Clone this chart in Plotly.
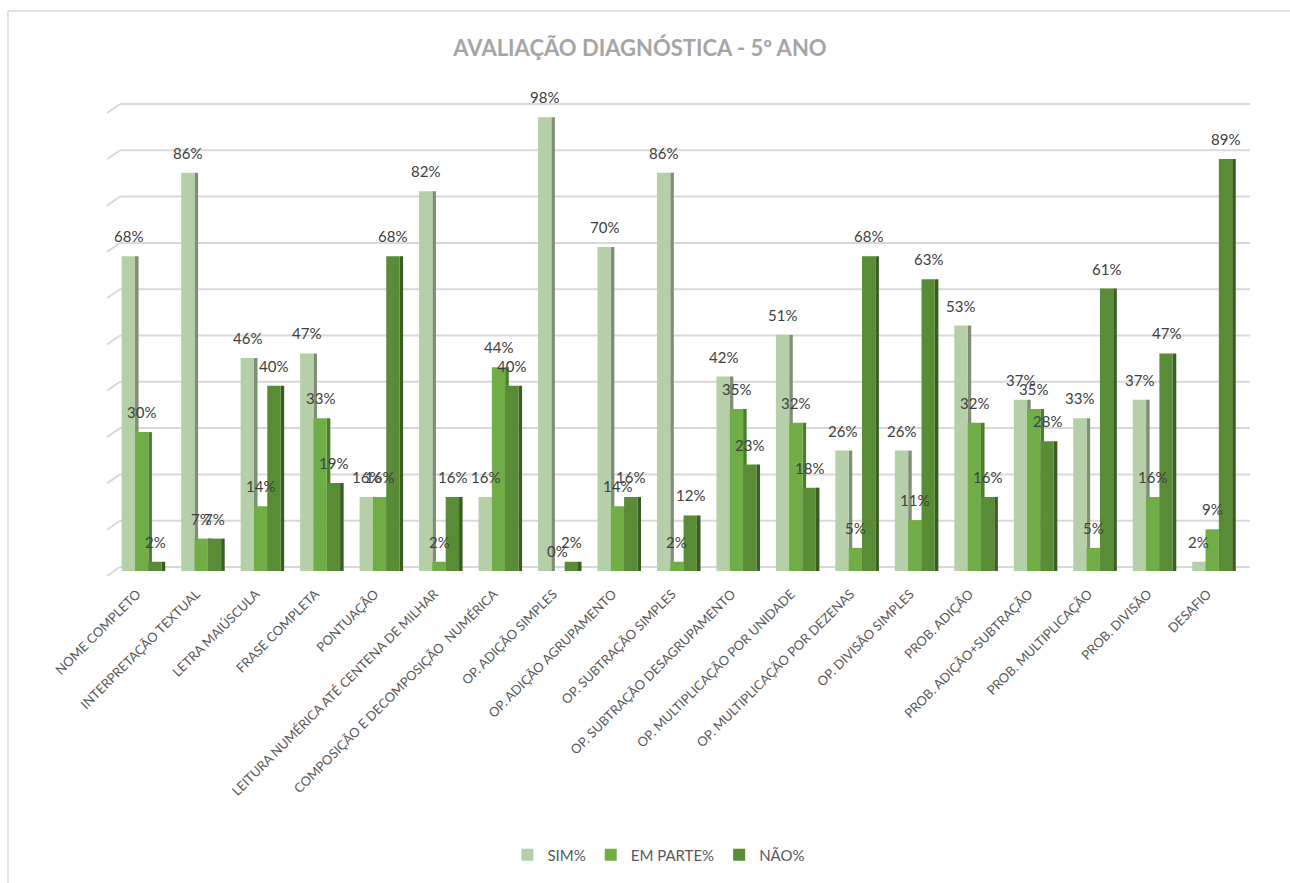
import plotly.graph_objects as go

# Avaliação diagnóstica - 5º ano: percentual por item e por resposta
categorias = [
    "NOME COMPLETO",
    "INTERPRETAÇÃO TEXTUAL",
    "LETRA MAIÚSCULA",
    "FRASE COMPLETA",
    "PONTUAÇÃO",
    "LEITURA NUMÉRICA ATÉ CENTENA DE MILHAR",
    "COMPOSIÇÃO E DECOMPOSIÇÃO  NUMÉRICA",
    "OP. ADIÇÃO SIMPLES",
    "OP. ADIÇÃO AGRUPAMENTO",
    "OP. SUBTRAÇÃO SIMPLES",
    "OP. SUBTRAÇÃO DESAGRUPAMENTO",
    "OP. MULTIPLICAÇÃO POR UNIDADE",
    "OP. MULTIPLICAÇÃO POR DEZENAS",
    "OP. DIVISÃO SIMPLES",
    "PROB. ADIÇÃO",
    "PROB. ADIÇÃO+SUBTRAÇÃO",
    "PROB. MULTIPLICAÇÃO",
    "PROB. DIVISÃO",
    "DESAFIO",
]

sim = [0.68, 0.86, 0.46, 0.47, 0.16, 0.82, 0.16, 0.98, 0.70, 0.86,
       0.42, 0.51, 0.26, 0.26, 0.53, 0.37, 0.33, 0.37, 0.02]
em_parte = [0.30, 0.07, 0.14, 0.33, 0.16, 0.02, 0.44, 0.00, 0.14, 0.02,
            0.35, 0.32, 0.05, 0.11, 0.32, 0.35, 0.05, 0.16, 0.09]
nao = [0.02, 0.07, 0.40, 0.19, 0.68, 0.16, 0.40, 0.02, 0.16, 0.12,
       0.23, 0.18, 0.68, 0.63, 0.16, 0.28, 0.61, 0.47, 0.89]

series = [
    # name, values, face colour, side colour, offset of the face
    ("SIM%", sim, "#b5cfa8", "#7e8f74", -0.337),
    ("EM PARTE%", em_parte, "#70ad47", "#4b7d2c", -0.113),
    ("NÃO%", nao, "#5a8c37", "#3a5e22", 0.111),
]
FACE_W = 0.224
SIDE_W = 0.06

x = list(range(len(categorias)))
FONT = "Lato, 'Open Sans', sans-serif"

# plot area geometry (pixels)
W, H = 1290, 883
L, R, T, B = 112, 48, 108, 312
PW, PH = W - L - R, H - T - B

fig = go.Figure()

# darker side faces give the columns their depth
for name, vals, face, side, off in series:
    fig.add_trace(go.Bar(
        x=x, y=vals, offset=off + FACE_W, width=SIDE_W,
        marker=dict(color=side, line=dict(width=0)),
        showlegend=False, hoverinfo="skip", cliponaxis=False,
    ))

# front faces
for name, vals, face, side, off in series:
    fig.add_trace(go.Bar(
        x=x, y=vals, offset=off, width=FACE_W, name=name,
        marker=dict(color=face, line=dict(width=0)),
        cliponaxis=False,
    ))

annotations = []
for name, vals, face, side, off in series:
    for i, v in enumerate(vals):
        annotations.append(dict(
            x=i + off + FACE_W / 2, y=v, xref="x", yref="y",
            text=f"{round(v * 100)}%", showarrow=False,
            yanchor="middle", xanchor="center", yshift=20,
            font=dict(family=FONT, size=15, color="#404040"),
        ))

# back-wall gridlines with the short floor bevel on the left
shapes = []
grid_color = "#d9d9d9"
for k in range(11):
    v = k / 10
    py = T + PH - v * PH - 4          # pixel row of the gridline
    yp = (H - B - py) / PH             # to paper units
    x_start = (120 - L) / PW
    x_end = (1250 - L) / PW
    x_bevel = (107 - L) / PW
    shapes.append(dict(type="line", xref="paper", yref="paper",
                       x0=x_start, x1=x_end, y0=yp, y1=yp,
                       line=dict(color=grid_color, width=2), layer="below"))
    shapes.append(dict(type="line", xref="paper", yref="paper",
                       x0=x_bevel, x1=x_start, y0=yp - 9 / PH, y1=yp,
                       line=dict(color=grid_color, width=2), layer="below"))

# chart frame (left and top edges)
fx = (8 - L) / PW
fy = (H - B - 11) / PH
shapes.append(dict(type="line", xref="paper", yref="paper",
                   x0=fx, x1=fx, y0=fy, y1=-B / PH - 0.05,
                   line=dict(color="#d9d9d9", width=1.5)))
shapes.append(dict(type="line", xref="paper", yref="paper",
                   x0=fx, x1=(W - L) / PW + 0.05, y0=fy, y1=fy,
                   line=dict(color="#d9d9d9", width=1.5)))

fig.update_layout(
    width=W, height=H,
    margin=dict(l=L, r=R, t=T, b=B),
    paper_bgcolor="white", plot_bgcolor="white",
    barmode="overlay",
    title=dict(text="<b>AVALIAÇÃO DIAGNÓSTICA - 5º ANO</b>",
               x=640 / W, xanchor="center",
               y=1 - 48 / H, yanchor="middle",
               font=dict(family=FONT, size=22, color="#a5a5a5")),
    xaxis=dict(range=[-0.5, len(categorias) - 0.5], tickmode="array",
               tickvals=[i - 0.08 for i in x], ticktext=categorias,
               tickangle=-45, ticklabelstandoff=12,
               showgrid=False, zeroline=False, showline=False, ticks="",
               tickfont=dict(family=FONT, size=13, color="#595959")),
    yaxis=dict(range=[0, 1], showgrid=False, zeroline=False,
               showline=False, showticklabels=False),
    legend=dict(orientation="h", x=0.484, xanchor="center",
                y=(H - B - 855) / PH, yanchor="middle",
                font=dict(family=FONT, size=15, color="#595959"),
                itemwidth=30, traceorder="normal"),
    annotations=annotations,
    shapes=shapes,
    font=dict(family=FONT),
)

fig.write_html("out.html")
